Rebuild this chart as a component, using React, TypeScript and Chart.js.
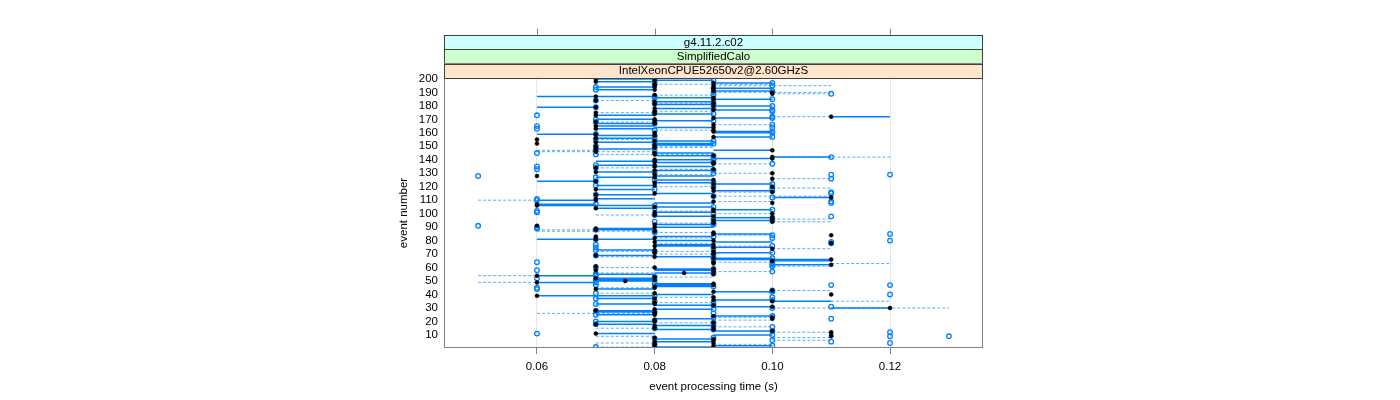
import React, { useEffect, useRef } from 'react';
import { Chart, registerables } from 'chart.js';

Chart.register(...registerables);

// ---- strips / axes ----
const stripLabels = ['g4.11.2.c02', 'SimplifiedCalo', 'IntelXeonCPUE52650v2@2.60GHzS'];
const stripColors = ['#ccffff', '#ccffcc', '#ffe5cc'];
const xTickValues = [0.06, 0.08, 0.10, 0.12];
const yTickValues = [10, 20, 30, 40, 50, 60, 70, 80, 90, 100, 110, 120, 130, 140, 150, 160, 170, 180, 190, 200];
const xTitle = 'event processing time (s)';
const yTitle = 'event number';

// ---- per-event values (event 1 .. 200), seconds ----
const blackTime = [
  0.08, 0.09, 0.08, 0.09, 0.08, 0.09, 0.09, 0.08, 0.11, 0.11,
  0.07, 0.11, 0.10, 0.09, 0.08, 0.09, 0.08, 0.07, 0.09, 0.08,
  0.08, 0.10, 0.10, 0.09, 0.08, 0.08, 0.08, 0.07, 0.08, 0.12,
  0.10, 0.09, 0.08, 0.08, 0.10, 0.09, 0.08, 0.09, 0.06, 0.11,
  0.08, 0.09, 0.10, 0.07, 0.08, 0.08, 0.09, 0.09, 0.06, 0.075,
  0.08, 0.07, 0.08, 0.06, 0.09, 0.085, 0.09, 0.07, 0.09, 0.08,
  0.07, 0.11, 0.09, 0.09, 0.10, 0.11, 0.09, 0.08, 0.07, 0.09,
  0.08, 0.09, 0.08, 0.10, 0.09, 0.08, 0.09, 0.11, 0.08, 0.09,
  0.07, 0.08, 0.07, 0.11, 0.09, 0.09, 0.08, 0.07, 0.07, 0.08,
  0.06, 0.08, 0.09, 0.10, 0.09, 0.10, 0.10, 0.09, 0.08, 0.10,
  0.08, 0.09, 0.09, 0.07, 0.08, 0.06, 0.06, 0.10, 0.09, 0.07,
  0.07, 0.11, 0.09, 0.07, 0.08, 0.10, 0.09, 0.07, 0.09, 0.10,
  0.08, 0.09, 0.08, 0.07, 0.09, 0.10, 0.08, 0.06, 0.08, 0.10,
  0.07, 0.08, 0.09, 0.07, 0.08, 0.08, 0.09, 0.09, 0.08, 0.08,
  0.10, 0.10, 0.09, 0.08, 0.08, 0.07, 0.10, 0.07, 0.08, 0.07,
  0.08, 0.06, 0.07, 0.08, 0.06, 0.07, 0.09, 0.08, 0.07, 0.08,
  0.09, 0.09, 0.07, 0.09, 0.07, 0.09, 0.08, 0.07, 0.08, 0.08,
  0.09, 0.11, 0.07, 0.08, 0.07, 0.08, 0.09, 0.08, 0.07, 0.09,
  0.08, 0.09, 0.08, 0.07, 0.09, 0.09, 0.07, 0.08, 0.10, 0.10,
  0.09, 0.08, 0.09, 0.08, 0.09, 0.08, 0.09, 0.07, 0.08, 0.07,
];

const circleTime = [
  0.07, 0.10, 0.08, 0.12, 0.11, 0.10, 0.08, 0.09, 0.12, 0.10,
  0.06, 0.12, 0.10, 0.09, 0.08, 0.10, 0.09, 0.07, 0.09, 0.07,
  0.08, 0.11, 0.09, 0.10, 0.07, 0.09, 0.08, 0.07, 0.09, 0.10,
  0.11, 0.09, 0.07, 0.09, 0.08, 0.10, 0.07, 0.10, 0.08, 0.12,
  0.07, 0.10, 0.10, 0.06, 0.06, 0.09, 0.11, 0.08, 0.07, 0.08,
  0.07, 0.06, 0.08, 0.07, 0.07, 0.09, 0.10, 0.06, 0.09, 0.07,
  0.10, 0.10, 0.10, 0.06, 0.10, 0.09, 0.10, 0.09, 0.07, 0.09,
  0.10, 0.08, 0.07, 0.09, 0.07, 0.10, 0.07, 0.11, 0.11, 0.12,
  0.07, 0.10, 0.09, 0.10, 0.12, 0.08, 0.08, 0.07, 0.06, 0.06,
  0.05, 0.09, 0.09, 0.08, 0.10, 0.09, 0.10, 0.11, 0.08, 0.09,
  0.06, 0.06, 0.10, 0.08, 0.09, 0.08, 0.07, 0.11, 0.11, 0.06,
  0.06, 0.10, 0.09, 0.07, 0.11, 0.11, 0.10, 0.08, 0.10, 0.09,
  0.07, 0.10, 0.09, 0.07, 0.08, 0.11, 0.07, 0.05, 0.11, 0.09,
  0.08, 0.09, 0.06, 0.07, 0.06, 0.07, 0.10, 0.09, 0.08, 0.09,
  0.09, 0.11, 0.09, 0.07, 0.06, 0.08, 0.07, 0.07, 0.08, 0.07,
  0.08, 0.09, 0.08, 0.09, 0.07, 0.08, 0.10, 0.08, 0.07, 0.10,
  0.10, 0.08, 0.06, 0.10, 0.06, 0.10, 0.08, 0.07, 0.09, 0.07,
  0.10, 0.10, 0.06, 0.09, 0.08, 0.10, 0.10, 0.09, 0.07, 0.10,
  0.09, 0.08, 0.09, 0.07, 0.10, 0.08, 0.08, 0.09, 0.11, 0.09,
  0.10, 0.07, 0.09, 0.07, 0.10, 0.08, 0.10, 0.08, 0.09, 0.08,
];

// extra (outlying) open circles: [event, time]
const extraCircles: [number, number][] = [
  [47, 0.07], [47, 0.12], [129, 0.12], [9, 0.13],
];

// solid spans: [event, from, to]
const solidSpans: [number, number, number][] = [
  [1, 0.08, 0.09], [2, 0.09, 0.10], [5, 0.08, 0.09], [7, 0.08, 0.09], [10, 0.09, 0.10],
  [11, 0.07, 0.08], [13, 0.09, 0.10], [14, 0.08, 0.09], [17, 0.08, 0.09], [18, 0.07, 0.08],
  [20, 0.07, 0.08], [22, 0.08, 0.09], [24, 0.09, 0.10], [25, 0.07, 0.08], [27, 0.07, 0.08],
  [28, 0.07, 0.08], [29, 0.08, 0.09], [30, 0.11, 0.12], [31, 0.09, 0.10], [32, 0.08, 0.09],
  [33, 0.07, 0.08], [35, 0.10, 0.11], [36, 0.09, 0.10], [37, 0.07, 0.08], [39, 0.06, 0.08],
  [40, 0.08, 0.09], [42, 0.09, 0.10], [44, 0.07, 0.08], [46, 0.08, 0.09], [47, 0.08, 0.09],
  [48, 0.08, 0.09], [49, 0.06, 0.07], [50, 0.07, 0.08], [51, 0.07, 0.08], [52, 0.07, 0.08],
  [54, 0.06, 0.07], [55, 0.07, 0.08], [56, 0.08, 0.09], [58, 0.08, 0.09], [59, 0.08, 0.09],
  [62, 0.10, 0.11], [65, 0.10, 0.11], [66, 0.09, 0.11], [67, 0.09, 0.10], [68, 0.08, 0.09],
  [69, 0.07, 0.08], [71, 0.09, 0.10], [73, 0.07, 0.08], [75, 0.09, 0.10], [76, 0.08, 0.09],
  [77, 0.08, 0.09], [79, 0.09, 0.10], [80, 0.08, 0.09], [81, 0.06, 0.08], [83, 0.08, 0.09],
  [85, 0.09, 0.10], [88, 0.07, 0.08], [89, 0.07, 0.08], [90, 0.08, 0.09], [92, 0.08, 0.09],
  [95, 0.09, 0.10], [97, 0.09, 0.10], [98, 0.08, 0.09], [101, 0.08, 0.09], [103, 0.09, 0.10],
  [104, 0.07, 0.08], [105, 0.08, 0.09], [106, 0.06, 0.08], [107, 0.06, 0.07], [108, 0.08, 0.09],
  [110, 0.06, 0.07], [111, 0.07, 0.08], [112, 0.10, 0.11], [114, 0.07, 0.08], [115, 0.08, 0.09],
  [117, 0.09, 0.10], [118, 0.07, 0.08], [121, 0.07, 0.08], [122, 0.09, 0.10], [123, 0.08, 0.09],
  [124, 0.06, 0.07], [125, 0.08, 0.09], [127, 0.07, 0.08], [128, 0.08, 0.09], [131, 0.07, 0.08],
  [132, 0.08, 0.09], [135, 0.08, 0.09], [136, 0.07, 0.08], [138, 0.08, 0.09], [139, 0.07, 0.08],
  [140, 0.08, 0.09], [141, 0.09, 0.10], [142, 0.10, 0.11], [143, 0.08, 0.09], [145, 0.08, 0.09],
  [147, 0.09, 0.10], [148, 0.07, 0.08], [151, 0.08, 0.09], [152, 0.08, 0.09], [153, 0.07, 0.08],
  [154, 0.08, 0.09], [156, 0.07, 0.08], [157, 0.09, 0.10], [158, 0.07, 0.08], [159, 0.06, 0.07],
  [160, 0.09, 0.10], [161, 0.09, 0.10], [163, 0.07, 0.08], [164, 0.08, 0.09], [165, 0.07, 0.08],
  [167, 0.07, 0.08], [169, 0.08, 0.09], [170, 0.07, 0.08], [171, 0.09, 0.10], [172, 0.11, 0.12],
  [173, 0.07, 0.08], [174, 0.08, 0.09], [177, 0.09, 0.10], [178, 0.08, 0.09], [179, 0.06, 0.07],
  [180, 0.09, 0.10], [181, 0.08, 0.09], [183, 0.08, 0.09], [185, 0.09, 0.10], [186, 0.08, 0.09],
  [187, 0.06, 0.08], [191, 0.09, 0.10], [192, 0.07, 0.08], [193, 0.09, 0.10], [194, 0.07, 0.08],
  [197, 0.09, 0.10], [198, 0.07, 0.08], [199, 0.08, 0.09], [200, 0.07, 0.08],
];

// dashed spans: [event, from, to]
const dashedSpans: [number, number, number][] = [
  [1, 0.07, 0.08], [3, 0.09, 0.10], [4, 0.07, 0.08], [6, 0.10, 0.11], [8, 0.10, 0.11],
  [9, 0.07, 0.08], [12, 0.10, 0.11], [15, 0.07, 0.08], [16, 0.09, 0.10], [19, 0.08, 0.09],
  [21, 0.09, 0.10], [23, 0.09, 0.10], [26, 0.06, 0.08], [30, 0.10, 0.13], [34, 0.08, 0.09],
  [35, 0.11, 0.12], [38, 0.08, 0.09], [41, 0.07, 0.08], [43, 0.10, 0.11], [45, 0.07, 0.08],
  [49, 0.05, 0.06], [53, 0.08, 0.09], [54, 0.05, 0.06], [56, 0.07, 0.08], [57, 0.09, 0.10],
  [60, 0.07, 0.08], [61, 0.10, 0.11], [63, 0.11, 0.12], [64, 0.09, 0.10], [68, 0.07, 0.08],
  [70, 0.08, 0.09], [72, 0.07, 0.09], [74, 0.10, 0.11], [76, 0.09, 0.10], [78, 0.08, 0.09],
  [82, 0.08, 0.09], [84, 0.09, 0.10], [86, 0.08, 0.09], [87, 0.06, 0.08], [88, 0.06, 0.07],
  [93, 0.08, 0.09], [94, 0.10, 0.11], [96, 0.10, 0.11], [99, 0.07, 0.08], [100, 0.09, 0.10],
  [102, 0.08, 0.09], [109, 0.09, 0.10], [110, 0.05, 0.06], [113, 0.09, 0.11], [116, 0.09, 0.10],
  [119, 0.10, 0.11], [120, 0.08, 0.09], [126, 0.10, 0.11], [129, 0.08, 0.09], [130, 0.09, 0.10],
  [133, 0.08, 0.09], [134, 0.07, 0.08], [137, 0.09, 0.10], [142, 0.10, 0.12], [144, 0.07, 0.09],
  [146, 0.06, 0.08], [147, 0.06, 0.07], [149, 0.08, 0.09], [150, 0.08, 0.09], [155, 0.07, 0.08],
  [162, 0.08, 0.09], [166, 0.09, 0.10], [168, 0.07, 0.08], [172, 0.10, 0.11], [175, 0.07, 0.08],
  [176, 0.08, 0.09], [182, 0.08, 0.09], [184, 0.07, 0.08], [188, 0.08, 0.09], [189, 0.10, 0.11],
  [190, 0.09, 0.11], [195, 0.09, 0.11], [196, 0.08, 0.10],
];

const BLUE = '#0080ff';
const FONT = "'Liberation Sans', Arial, Helvetica, sans-serif";
const FSIZE = 11.5;

function spansToPoints(spans: [number, number, number][]) {
  const pts: { x: number | null; y: number | null }[] = [];
  spans.forEach(([ev, a, b]) => {
    pts.push({ x: a, y: ev }, { x: b, y: ev }, { x: null, y: null });
  });
  return pts;
}

const panelPlugin = {
  id: 'latticePanel',
  afterDraw(chart: any) {
    const { ctx, chartArea: a, scales } = chart;
    ctx.save();
    // panel box
    ctx.strokeStyle = '#808080';
    ctx.lineWidth = 1;
    ctx.strokeRect(Math.round(a.left) + 0.5, Math.round(a.top) + 0.5,
      Math.round(a.right - a.left) - 1, Math.round(a.bottom - a.top) - 1);
    // strips
    const stripH = 14.4;
    const n = stripLabels.length;
    for (let i = 0; i < n; i++) {
      const top = a.top - (n - i) * stripH;
      ctx.fillStyle = stripColors[i];
      ctx.fillRect(a.left, top, a.right - a.left, stripH);
      ctx.strokeStyle = '#404040';
      ctx.strokeRect(Math.round(a.left) + 0.5, Math.round(top) + 0.5,
        Math.round(a.right - a.left) - 1, Math.round(stripH));
      ctx.fillStyle = '#000';
      ctx.font = `${FSIZE}px ${FONT}`;
      ctx.textAlign = 'center';
      ctx.textBaseline = 'middle';
      ctx.fillText(stripLabels[i], (a.left + a.right) / 2, top + stripH / 2 + 0.5);
    }
    // top tick marks above strips
    const stripTop = a.top - n * stripH;
    ctx.strokeStyle = '#808080';
    xTickValues.forEach((v) => {
      const x = Math.round(scales.x.getPixelForValue(v)) + 0.5;
      ctx.beginPath();
      ctx.moveTo(x, stripTop - 6);
      ctx.lineTo(x, stripTop);
      ctx.stroke();
    });
    ctx.restore();
  },
};

export default function App() {
  const ref = useRef<HTMLCanvasElement | null>(null);

  useEffect(() => {
    if (!ref.current) return;
    const blackPts = blackTime.map((t, i) => ({ x: t, y: i + 1 }));
    const circlePts = circleTime.map((t, i) => ({ x: t, y: i + 1 }));
    extraCircles.forEach(([ev, t]) => circlePts.push({ x: t, y: ev }));

    const chart = new Chart(ref.current, {
      type: 'scatter',
      data: {
        datasets: [
          {
            label: 'dashed',
            data: spansToPoints(dashedSpans) as any,
            showLine: true,
            spanGaps: false,
            borderColor: 'rgba(0,128,255,0.65)',
            borderWidth: 1,
            borderDash: [3, 2],
            pointRadius: 0,
            order: 3,
          },
          {
            label: 'solid',
            data: spansToPoints(solidSpans) as any,
            showLine: true,
            spanGaps: false,
            borderColor: BLUE,
            borderWidth: 1.5,
            pointRadius: 0,
            order: 2,
          },
          {
            label: 'circles',
            data: circlePts,
            pointStyle: 'circle',
            pointRadius: 2.3,
            borderWidth: 1.3,
            borderColor: BLUE,
            backgroundColor: 'rgba(255,255,255,0)',
            order: 1,
          },
          {
            label: 'black',
            data: blackPts,
            pointStyle: 'circle',
            pointRadius: 2,
            borderWidth: 0.5,
            borderColor: '#000',
            backgroundColor: '#000',
            order: 0,
          },
        ],
      },
      options: {
        responsive: false,
        animation: false,
        events: [],
        layout: { padding: { left: 393, right: 417, top: 78, bottom: 0 } },
        plugins: { legend: { display: false }, tooltip: { enabled: false }, title: { display: false } },
        scales: {
          x: {
            type: 'linear',
            min: 0.0442,
            max: 0.1358,
            afterFit: (s: any) => { s.height = 52; },
            afterBuildTicks: (s: any) => { s.ticks = xTickValues.map((v) => ({ value: v })); },
            ticks: {
              autoSkip: false,
              maxRotation: 0,
              padding: 6,
              color: '#000',
              font: { family: FONT, size: FSIZE },
              callback: (v: any) => Number(v).toFixed(2),
            },
            grid: { color: '#e6e6e6', tickColor: '#808080', tickLength: 6, drawTicks: true, lineWidth: 1 },
            border: { display: false },
            title: {
              display: true,
              text: xTitle,
              color: '#000',
              font: { family: FONT, size: FSIZE },
              padding: { top: 0, bottom: 6 },
            },
          },
          y: {
            type: 'linear',
            min: 0.3,
            max: 200.7,
            afterFit: (s: any) => { s.width = 51; },
            afterBuildTicks: (s: any) => { s.ticks = yTickValues.map((v) => ({ value: v })); },
            ticks: {
              autoSkip: false,
              padding: 6,
              color: '#000',
              font: { family: FONT, size: FSIZE },
            },
            grid: { display: false, drawTicks: false },
            border: { display: false },
            title: {
              display: true,
              text: yTitle,
              color: '#000',
              font: { family: FONT, size: FSIZE },
              padding: { top: 4, bottom: 0 },
            },
          },
        },
      },
      plugins: [panelPlugin],
    });
    return () => chart.destroy();
  }, []);

  return (
    <div style={{ position: 'fixed', left: 0, top: 0, width: 1400, height: 400, background: '#fff' }}>
      <canvas ref={ref} width={1400} height={400} style={{ display: 'block' }} />
    </div>
  );
}
